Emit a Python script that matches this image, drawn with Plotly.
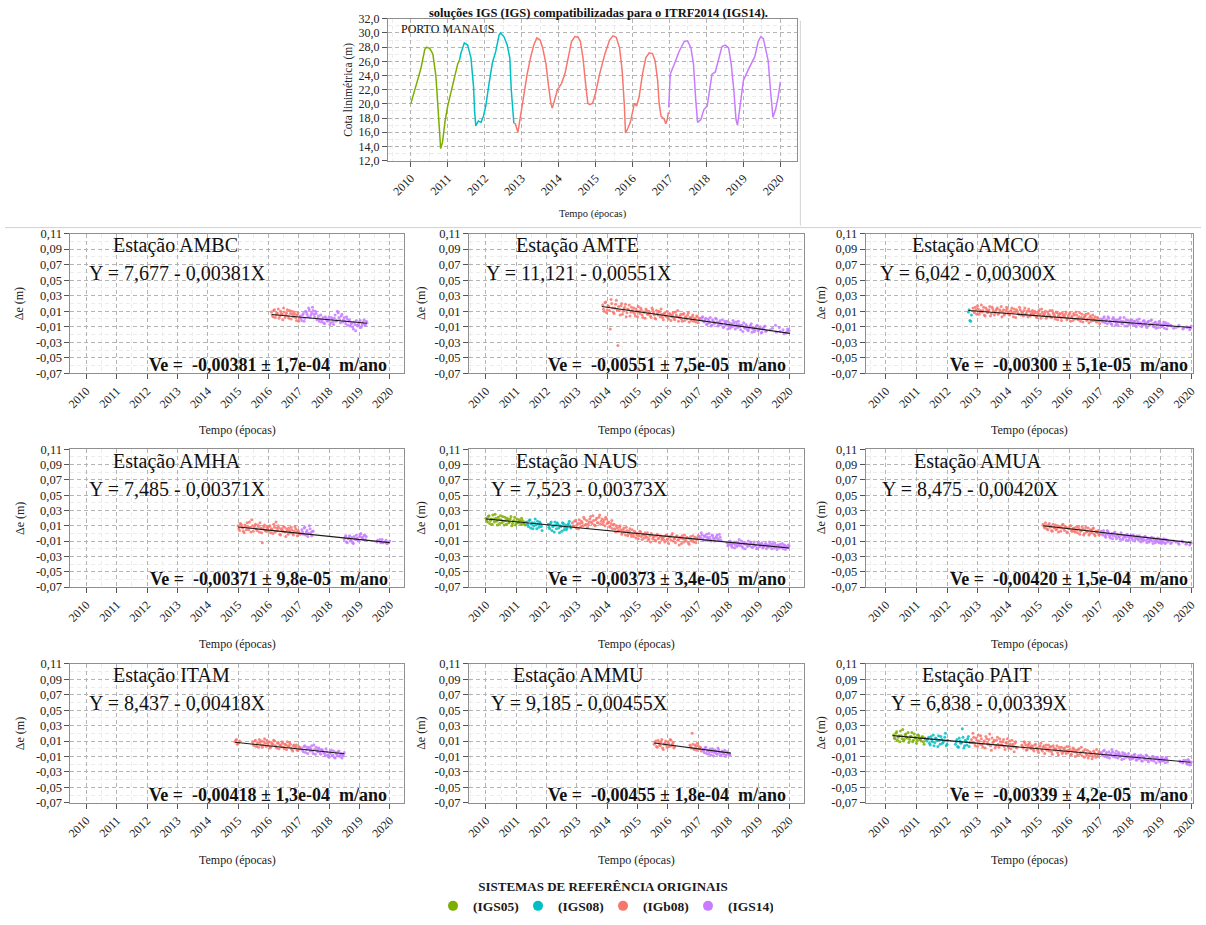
import numpy as np
import plotly.graph_objects as go

# ============================ DATA ============================
YEARS = [2010, 2011, 2012, 2013, 2014, 2015, 2016, 2017, 2018, 2019, 2020]
DE_TICKS = [-0.07, -0.05, -0.03, -0.01, 0.01, 0.03, 0.05, 0.07, 0.09, 0.11]
DE_TICKTEXT = ["-0,07", "-0,05", "-0,03", "-0,01", "0,01", "0,03", "0,05", "0,07", "0,09", "0,11"]
COTA_TICKS = [12, 14, 16, 18, 20, 22, 24, 26, 28, 30, 32]
COTA_TICKTEXT = ["12,0", "14,0", "16,0", "18,0", "20,0", "22,0", "24,0", "26,0", "28,0", "30,0", "32,0"]

SYSTEMS = ["IGS05", "IGS08", "IGb08", "IGS14"]
SYSTEM_COLORS = ["#7CAE00", "#00BFC4", "#F8766D", "#C77CFF"]

# Porto Manaus river level (m)
MANAUS_IGS05_T = [2010.00, 2010.05, 2010.11, 2010.20, 2010.28, 2010.38, 2010.43, 2010.52, 2010.60, 2010.68,
                  2010.73, 2010.76, 2010.79, 2010.81, 2010.86, 2010.89, 2010.93, 2011.00, 2011.08, 2011.17,
                  2011.27, 2011.32]
MANAUS_IGS05_Z = [20.0, 21.0, 21.8, 23.6, 25.1, 27.7, 28.0, 27.8, 27.0, 24.0,
                  20.1, 17.4, 15.0, 13.7, 14.6, 16.0, 17.6, 19.7, 21.5, 23.8,
                  25.6, 26.2]
MANAUS_IGS08_T = [2011.32, 2011.36, 2011.45, 2011.54, 2011.63, 2011.70, 2011.73, 2011.76, 2011.83, 2011.90,
                  2011.97, 2012.03, 2012.12, 2012.21, 2012.30, 2012.39, 2012.43, 2012.52, 2012.61, 2012.68,
                  2012.72, 2012.76, 2012.79]
MANAUS_IGS08_Z = [26.2, 27.2, 28.6, 28.3, 26.5, 22.4, 18.8, 16.9, 17.6, 17.4,
                  18.3, 19.7, 22.9, 25.8, 27.4, 29.7, 30.0, 29.5, 28.3, 26.5,
                  22.0, 18.3, 17.3]
MANAUS_IGB08_T = [2012.79, 2012.83, 2012.90, 2012.97, 2013.04, 2013.15, 2013.24, 2013.33, 2013.41, 2013.50,
                  2013.57, 2013.66, 2013.72, 2013.79, 2013.83, 2013.90, 2013.97, 2014.08, 2014.17, 2014.26,
                  2014.35, 2014.44, 2014.53, 2014.59, 2014.66, 2014.73, 2014.79, 2014.84, 2014.92, 2015.00,
                  2015.11, 2015.25, 2015.38, 2015.47, 2015.56, 2015.65, 2015.72, 2015.78, 2015.81, 2015.87,
                  2015.94, 2016.00, 2016.05, 2016.11, 2016.18, 2016.27, 2016.36, 2016.45, 2016.54, 2016.61,
                  2016.68, 2016.72, 2016.77, 2016.86, 2016.90, 2016.94, 2016.97]
MANAUS_IGB08_Z = [17.3, 17.2, 16.0, 18.3, 21.0, 24.2, 26.5, 28.3, 29.3, 29.0,
                  27.9, 25.6, 22.9, 20.1, 19.4, 20.6, 22.0, 22.9, 24.2, 26.5,
                  28.8, 29.5, 29.4, 28.8, 26.5, 22.9, 20.1, 19.9, 20.1, 21.5,
                  24.2, 27.0, 29.0, 29.6, 29.4, 27.9, 24.7, 19.7, 15.9, 16.5,
                  17.4, 18.8, 20.1, 19.7, 21.0, 24.2, 26.5, 27.2, 27.1, 26.1,
                  23.3, 20.1, 18.3, 17.8, 17.2, 17.8, 18.8]
MANAUS_IGS14_T = [2016.98, 2017.02, 2017.13, 2017.26, 2017.40, 2017.49, 2017.58, 2017.65, 2017.71, 2017.76,
                  2017.85, 2017.93, 2018.02, 2018.08, 2018.15, 2018.24, 2018.33, 2018.42, 2018.51, 2018.60,
                  2018.67, 2018.74, 2018.80, 2018.84, 2018.91, 2019.00, 2019.12, 2019.22, 2019.31, 2019.40,
                  2019.47, 2019.54, 2019.61, 2019.67, 2019.74, 2019.80, 2019.87, 2019.94, 2020.00]
MANAUS_IGS14_Z = [19.5, 24.2, 25.6, 27.4, 28.8, 28.9, 27.9, 25.6, 20.6, 17.4,
                  17.8, 19.2, 19.7, 22.0, 24.2, 24.5, 26.5, 28.1, 28.3, 27.9,
                  25.6, 22.0, 17.8, 17.0, 19.7, 23.3, 24.7, 25.8, 26.7, 28.8,
                  29.5, 29.2, 27.4, 26.1, 21.5, 18.1, 19.2, 21.0, 23.1]

# East-component residuals (mm). "A" samples every 0.05 yr from the start epoch,
# "B" samples every 0.05 yr from start + 0.025 yr; None = no data.
SAMPLE_STEP = 0.05
B_OFFSET = 0.025

AMBC_START = {"IGb08": 2016.10, "IGS14": 2017.05}
AMBC_IGB08_A = [9, 3, 12, 5, 7, 1, 10, 6, 14, 2, 8, 4, 11, 0, 6, 9, 2, 5, -3]
AMBC_IGB08_B = [5, 11, 2, 8, 13, 4, 7, -1, 9, 5, 12, 1, 7, 10, 3, 6, -2, 8, 1]
AMBC_IGS14_A = [4, -2, 7, 1, 9, 3, 12, 5, 15, 6, 10, -1, 4, 0, -4, 2, -6, 1, -3, 3,
                -5, 0, -7, 5, -2, 8, -1, 4, -4, 2, -6, 0, -3, -9, -5, -13, -7, -2, -9, -4,
                -11, -6, -1, -8, -5]
AMBC_IGS14_B = [1, 5, -3, 10, 6, 14, 2, 8, 11, 3, 7, 1, -3, 5, -1, -5, 3, -2, 0, -7,
                2, -4, 1, -3, 10, 2, -5, 6, -1, -3, 3, -8, -1, -6, -10, -4, -15, -8, -6, -2,
                -9, -4, -7, -3]
AMBC_FIT_T = [2016.11, 2019.25]
AMBC_FIT_MM = [5.7, -5.5]

AMTE_START = {"IGb08": 2013.85, "IGS14": 2017.10}
AMTE_IGB08_A = [18, 10, 22, 12, 16, -13, 20, 9, 14, 24, -34, 11, 17, 6, 13, 19, 8, 12, 4, 15,
                9, 7, 13, 3, 10, 14, 5, 9, 1, 11, 6, 8, 2, 12, 5, 0, 7, 10, 3, 6,
                -1, 8, 4, 2, 7, -2, 5, 1, 9, 3, -3, 4, 0, 6, -2, 2, 5, -4, 1, 3,
                -3, 0, 4, -5, 1]
AMTE_IGB08_B = [13, 21, 8, 17, 11, 25, 14, 7, 19, 12, 16, 5, 20, 10, 15, 3, 13, 18, 9, 11,
                14, 4, 10, 16, 7, 12, 2, 9, 13, 6, 10, 4, 14, 8, 1, 11, 5, 9, 13, 2,
                7, 4, 10, 0, 6, 3, 8, -1, 5, 11, 2, 6, -3, 7, 3, 0, 8, 2, -2, 5,
                1, -4, 3, -1]
AMTE_IGS14_A = [-1, 3, -4, 1, -6, -2, 2, -8, -3, -5, 0, -9, -4, -7, -1, -10, -5, -3, -8, -12,
                -6, -2, -9, -4, -11, -7, -14, -8, -5, -12, -9, -15, -10, -6, -13, -16, -11, -8, -14, -10,
                -17, -12, -9, -15, None, None, None, -12, None, -8, None, None, -16, None, -14, None, -18, -13, -15]
AMTE_IGS14_B = [2, -3, -1, -7, 0, -5, -9, -1, -6, 1, -4, -8, -2, -6, -11, -3, -8, -13, -5, -9,
                -10, -5, -13, -7, -3, -10, -8, -16, -11, -7, -14, -12, -8, -17, -11, -14, -9, -15, -12, -18,
                -13, -10, -16, None, None, -14, None, None, None, -17, None, -11, None, None, -19, None, -16, -14]
AMTE_FIT_T = [2013.82, 2020.03]
AMTE_FIT_MM = [16.0, -18.5]

AMCO_START = {"IGS08": 2012.70, "IGb08": 2012.85, "IGS14": 2017.05}
AMCO_IGS08_A = [9, -2, 5]
AMCO_IGS08_B = [12, -3]
AMCO_IGB08_A = [14, 8, 12, 17, 6, 11, 9, 15, 4, 12, 10, 16, 7, 13, 5, 11, 14, 8, 10, 3,
                12, 7, 15, 9, 5, 11, 8, 13, 2, 10, 6, 12, 9, 4, 14, 7, 3, 10, 6, 11,
                5, 8, 2, 10, 6, 13, 4, 7, 1, 9, 5, 3, 11, 6, 0, 8, 4, 7, -2, 5,
                3, 9, 1, 6, -3, 4, 7, 0, 5, -1, 8, 2, -4, 3, 6, 0, -5, 4, 1, -2,
                3, -4, 1, -6]
AMCO_IGB08_B = [10, 15, 6, 13, 9, 18, 11, 5, 14, 8, 12, 4, 15, 10, 8, 13, 6, 12, 16, 9,
                5, 11, 13, 6, 10, 14, 3, 9, 12, 7, 15, 5, 8, 11, 6, 10, 13, 4, 9, 7,
                10, 3, 7, 12, 1, 8, 5, 10, 3, 6, 11, 2, 8, 4, 9, -1, 6, 2, 8, 3,
                6, -1, 4, 8, 2, -2, 5, 9, 1, 3, -3, 6, 1, 4, -2, 7, 2, -3, 5, 0,
                -2, 2, -3]
AMCO_IGS14_A = [0, -4, 3, -2, -6, 1, -3, -7, 2, -1, -5, -8, 0, -3, -6, 2, -4, -9, -2, -5,
                -1, -7, -3, -10, -4, 0, -6, -8, -2, -5, -11, -3, -7, -1, -9, -5, -12, -6, -3, -8,
                -10, -4, -7, -13, -6, None, -9, None, None, -11, None, -8, None, None, -12, None, -10, None, -14, -9]
AMCO_IGS14_B = [-2, 1, -5, -1, 3, -4, -6, 0, -3, -8, -1, -4, 2, -6, -3, -9, -1, -5, -7, -2,
                -6, -3, -8, -1, -7, -5, -10, -3, -7, -9, -4, -8, -2, -6, -10, -4, -7, -11, -5, -9,
                -7, -12, -5, -9, None, -8, None, -12, None, None, -10, None, None, -13, None, None, -11, None, -12]
AMCO_FIT_T = [2012.70, 2020.0]
AMCO_FIT_MM = [11.0, -11.0]

AMHA_START = {"IGb08": 2015.00, "IGS14": 2017.10}
AMHA_IGB08_A = [10, 4, 12, 7, 1, 9, 14, 5, 8, 18, 3, 10, 6, 11, 2, 7, -12, 9, 4, 8,
                3, 10, 6, 0, 8, 15, 4, 7, -2, 5, 9, 2, 6, -1, 4, 8, 0, 3, 6, -3,
                2, -1]
AMHA_IGB08_B = [6, 13, 9, 3, 11, 5, 8, 15, 2, 10, 7, 12, 4, 9, 14, 1, 6, 11, 3, 7,
                9, 1, 5, 12, 2, 7, 10, -1, 6, 3, 8, -4, 4, 7, 1, 5, -2, 9, 2, 4,
                0]
AMHA_IGS14_A = [5, -1, 8, 2, -4, 10, 1, 3,
                None, None, None, None, None, None, None, None, None, None,
                None, None, None, None, None, None, None, None, None, None,
                -8, -3, -12, -6, -10, -5, -13, -7, -2, -9, -4, 0, -6, -3, -8,
                None, None, None, None, None, None, None,
                -9, None, -12, -8, None, -11, -13, None, -10]
AMHA_IGS14_B = [2, 7, -2, 4, 0, 6, -3, 3,
                None, None, None, None, None, None, None, None, None, None,
                None, None, None, None, None, None, None, None, None, None,
                -5, -11, -7, -3, -9, -12, -4, -8, -6, -10, -1, -5, -8, -2, -4,
                None, None, None, None, None, None,
                -11, None, -8, None, -12, None, -9, -13, None]
AMHA_FIT_T = [2015.0, 2020.0]
AMHA_FIT_MM = [8.5, -12.0]

NAUS_START = {"IGS05": 2010.00, "IGS08": 2011.35, "IGb08": 2012.85, "IGS14": 2017.05}
NAUS_IGS05_A = [20, 15, 23, 17, 12, 19, 25, 16, 21, 13, 18, 22, 11, 17, 20, 14, 19, 10, 16, 21,
                13, 15, 18, 12, 17, 14, 11]
NAUS_IGS05_B = [17, 22, 13, 19, 24, 15, 20, 11, 18, 23, 14, 16, 21, 12, 18, 15, 22, 13, 17, 11,
                19, 14, 16, 20, 12, 15]
NAUS_IGS08_A = [15, 9, 18, 12, 6, 14, 11, 16, 8, 13, 4,
                None, None, None,
                12, 6, 15, 9, 2, 11, 14, 7, 10, 3, 13, 8, 5, 11, 16, 7]
NAUS_IGS08_B = [12, 17, 7, 14, 10, 19, 6, 12, 15, 9,
                None, None, None, None,
                8, 13, 4, 10, 15, 6, 12, 1, 9, 14, 5, 11, 7, 13, 10]
NAUS_IGB08_A = [14, 9, 17, 11, 6, 13, 16, 10, 19, 12, 8, 15, 22, 13, 17, 10, 20, 14, 24, 16,
                12, 18, 21, 13, 15, 8, 17, 11, 6, 10, 3, 8, 5, 1, 7, -2, 4, 0, 6, -4,
                -1, 3, -6, 0, -3, 2, -8, -2, 1, -5, -9, -3, 0, -7, -4, -10, -1, -6, -3, -8,
                -5, -11, -2, -7, -4, -9, 0, -6, -12, -3, -8, -5, -13, -7, -2, -10, -6, -14, -4, -9,
                -11, -5, -8, -3]
NAUS_IGB08_B = [10, 16, 7, 13, 18, 9, 14, 21, 11, 17, 12, 19, 15, 23, 11, 18, 14, 21, 12, 19,
                15, 10, 19, 14, 9, 13, 6, 12, 2, 7, 4, 10, -1, 5, 2, 8, -3, 3, -1, 5,
                -4, 1, -2, -7, 3, -4, -1, -6, -3, 1, -7, -11, -2, -5, -9, -3, -7, -12, -4, -6,
                -9, -3, -8, -13, -5, -2, -10, -7, -4, -9, -15, -6, -3, -11, -8, -5, -12, -7, -10, -3,
                -7, -12, -6]
NAUS_IGS14_A = [-4, 1, -7, -3, -9, -5, 0, -8, -2, -6, -10, -4, -7, -1, -9, None, None, None, -12, -15,
                -10, -16, -13, -19, -11, -15, -8, -14, -17, -12, -20, -14, -10, -16, -13, -18, -11, -15, -19, -13,
                -16, -12, -18, -14, -20, -15, -11, -17, -13, -19, -15, -21, -16, -14, -18, -20, -15, -17, -19, -16]
NAUS_IGS14_B = [-6, -2, -9, -4, -1, -7, -5, -10, -3, -8, -6, -2, -9, -5, None, None, None, None, -16, -13,
                -14, -18, -11, -15, -17, -12, -16, -10, -19, -14, -13, -17, -15, -11, -18, -14, -16, -20, -12, -17,
                -14, -19, -16, -13, -17, -18, -14, -20, -16, -12, -18, -15, -19, -17, -13, -16, -21, -18, -15]
NAUS_FIT_T = [2010.0, 2020.0]
NAUS_FIT_MM = [19.0, -19.0]

AMUA_START = {"IGb08": 2015.15, "IGS14": 2017.05}
AMUA_IGB08_A = [12, 7, 10, 5, 13, 9, 3, 8, 11, 6, 2, 9, 7, 12, 4, 8, 1, 6, 10, 3,
                7, 2, 5, 9, -1, 4, 6, 0, 8, 3, -2, 5, 1, 7, -3, 2, 4, -1]
AMUA_IGB08_B = [9, 14, 6, 11, 8, 4, 12, 7, 5, 10, 8, 3, 11, 6, 9, 2, 7, 10, 4, 6,
                3, 8, 1, 6, 3, 9, -2, 5, 2, 7, 0, 4, 6, -1, 3, 1, -2]
AMUA_IGS14_A = [3, -2, 1, -5, 4, -1, -6, 0, -3, 2, -7, -2, -4, 1, -8, -3, -5, -1, -9, -4,
                -6, -2, -10, -5, -7, -3, -11, -6, -8, -4, -12, -7, -9, -5, -13, -8, -10, -6, -12, -9,
                -11, -7, -13, -9, -10, None, -12, None, None, -11, None, -14, None, -10, None, None, -13, None, -15, -12]
AMUA_IGS14_B = [0, 4, -3, -1, 2, -4, -2, -7, 1, -4, -1, -5, -8, -2, -6, -3, -9, -4, -6, -2,
                -8, -4, -7, -3, -9, -6, -8, -10, -4, -9, -6, -11, -8, -10, -6, -12, -9, -11, -7, -13,
                -9, -12, -8, -11, None, -13, None, -10, None, None, -12, None, None, -11, None, -14, None, None, -13]
AMUA_FIT_T = [2015.15, 2020.0]
AMUA_FIT_MM = [10.0, -12.0]

ITAM_START = {"IGb08": 2014.90, "IGS14": 2017.10}
ITAM_IGB08_A = [9, 12, 7, 10,
                None, None, None, None, None, None, None, None,
                6, 10, 3, 8, 12, 5, 2, 9, 7, 11, 4, 1, 8, 6, 10, 3, 7, 0, 5, 9,
                2, 6, -1, 4, 8, 1, -3, 5, 2, -2, 3, 0]
ITAM_IGB08_B = [11, 6, 8,
                None, None, None, None, None, None, None, None,
                9, 4, 11, 6, 2, 8, 10, 5, 13, 3, 7, 9, 2, 6, 11, 4, 1, 8, 5, 3,
                7, 0, 5, 9, 3, 6, -1, 4, 1, 5, -2, 2]
ITAM_IGS14_A = [1, -4, 4, -1, -6, 2, 0, -3, 5, -7, -2, 1, -5, -1,
                -3, -6, 0, -8, -11, -5, -9, -3, -12, -7, -4, -10, -6, -9, -5]
ITAM_IGS14_B = [-2, 3, -5, 2, 0, -3, 4, -6, -1, 2, -4, 0, -7, -2,
                -5, -9, -4, -10, -6, -2, -8, -11, -5, -9, -3, -8, -12, -7]
ITAM_FIT_T = [2014.9, 2018.5]
ITAM_FIT_MM = [8.5, -6.5]

AMMU_START = {"IGb08": 2015.55, "IGS14": 2017.15}
AMMU_IGB08_A = [6, 10, 2, 8, 4, 12, -1, 7, 5, 9, 3, 11, 6, 1,
                None, None, None, None, None, None, None, None, None, None,
                3, 20, 0, 5, -2, 4, 1, -3]
AMMU_IGB08_B = [8, 3, 11, 5, 9, 1, 6, 10, 2, 7, 12, 4, 8, 3,
                None, None, None, None, None, None, None, None, None,
                5, 1, 6, -1, 3, 7, 0, 2]
AMMU_IGS14_A = [-1, -5, 2, -3, -7, 0, -4, -9, -2, -6, 1, -5, -8, -3, -7, -10, -4, -6, -8]
AMMU_IGS14_B = [-3, 1, -6, -2, -4, -8, 0, -5, -3, -7, -1, -9, -4, -6, -2, -8, -5, -7]
AMMU_FIT_T = [2015.55, 2018.08]
AMMU_FIT_MM = [7.5, -5.6]

PAIT_START = {"IGS05": 2010.25, "IGS08": 2011.35, "IGb08": 2012.80, "IGS14": 2017.05}
PAIT_IGS05_A = [18, 13, 22, 15, 9, 17, 25, 12, 19, 14, 8, 16, 21, 11, 15, 7, 18, 13, 10, 16, 6, 12]
PAIT_IGS05_B = [14, 20, 11, 17, 23, 13, 10, 18, 15, 21, 12, 16, 9, 19, 14, 11, 17, 12, 15, 9, 14]
PAIT_IGS08_A = [10, 15, 5, 12, 18, 8, 13, 3, 11, 16, 7, 10, 20, 6,
                None, None, None, None, None,
                9, 3, 14, 7, 26, 1, 11, 5, 16, 8]
PAIT_IGS08_B = [13, 7, 16, 9, 4, 14, 11, 17, 6, 12, 9, 15, 4, 11,
                None, None, None, None,
                6, 12, 2, 10, 8, 15, 4, 9, 13, 3]
PAIT_IGB08_A = [12, 20, 7, 14, 3, 10, 17, 5, 9, 1, 13, 6, 19, -2, 8, 11, 4, 15, 2, 9,
                5, 12, -1, 7, 3, 10, 0, 6, -4, 9, 2, None, None, 5, 1, 8, -2, 4, 7, 0,
                3, -3, 6, 1, -5, 4, -1, 2, -6, 5, 0, -3, 3, -7, 1, -2, 4, -8, -1, 2,
                -4, 1, -6, -2, 3, -8, -3, 0, -10, -5, -1, -7, 2, -4, -11, -6, -2, -9, -5, -13,
                -3, -8, -1, -10, -6]
PAIT_IGB08_B = [8, 15, 4, 11, 18, 6, 13, 2, 10, 16, 7, 12, 4, 14, 9, 1, 11, 6, 13, 5,
                9, 3, 8, 13, 1, 6, 11, 3, 7, 1, None, None, None, 3, 9, 5, -1, 6, 2, 4,
                -1, 5, 1, -2, 3, 7, -3, 4, 1, -2, 5, 2, -4, 4, -1, 0, -5, 2, -3, -6,
                0, -3, 3, -5, -1, -7, 1, -4, -2, -8, 0, -5, -9, -3, -1, -8, -12, -4, -7, -10,
                -5, -11, -7, -4]
PAIT_IGS14_A = [-5, -9, -2, -7, -11, -4, -8, -1, -10, -6, -3, -12, -7, -9, -5, -13, -8, -10, -6, -14,
                -9, -12, -7, -15, -10, -13, -8, -16, -11, -14, -9, -17, -12, -15, -10, -13, -18, -11, -14, -16,
                -12, -15, -18, -13, None, None, None, None, None, None, None, None, -17, None, -15, None, -19, -14, -21, -17]
PAIT_IGS14_B = [-7, -3, -10, -5, -8, -12, -6, -4, -9, -11, -7, -5, -10, -14, -8, -6, -11, -9, -12, -10,
                -13, -8, -11, -14, -9, -12, -16, -10, -13, -8, -15, -12, -14, -10, -16, -13, -11, -15, -17, -13,
                -16, -14, -11, -17, None, None, None, None, None, None, None, -16, None, -18, None, -15, -20, -16, -18]
PAIT_FIT_T = [2010.22, 2019.97]
PAIT_FIT_MM = [17.0, -17.5]

STATIONS = ["AMBC", "AMTE", "AMCO", "AMHA", "NAUS", "AMUA", "ITAM", "AMMU", "PAIT"]
EQUATIONS = ["Y = 7,677 - 0,00381X", "Y = 11,121 - 0,00551X", "Y = 6,042 - 0,00300X",
             "Y = 7,485 - 0,00371X", "Y = 7,523 - 0,00373X", "Y = 8,475 - 0,00420X",
             "Y = 8,437 - 0,00418X", "Y = 9,185 - 0,00455X", "Y = 6,838 - 0,00339X"]
VELOCITIES = ["-0,00381 ± 1,7e-04", "-0,00551 ± 7,5e-05", "-0,00300 ± 5,1e-05",
              "-0,00371 ± 9,8e-05", "-0,00373 ± 3,4e-05", "-0,00420 ± 1,5e-04",
              "-0,00418 ± 1,3e-04", "-0,00455 ± 1,8e-04", "-0,00339 ± 4,2e-05"]

SERIES = {
    "AMBC": (AMBC_START, {"IGb08": (AMBC_IGB08_A, AMBC_IGB08_B), "IGS14": (AMBC_IGS14_A, AMBC_IGS14_B)},
             AMBC_FIT_T, AMBC_FIT_MM),
    "AMTE": (AMTE_START, {"IGb08": (AMTE_IGB08_A, AMTE_IGB08_B), "IGS14": (AMTE_IGS14_A, AMTE_IGS14_B)},
             AMTE_FIT_T, AMTE_FIT_MM),
    "AMCO": (AMCO_START, {"IGS08": (AMCO_IGS08_A, AMCO_IGS08_B), "IGb08": (AMCO_IGB08_A, AMCO_IGB08_B),
                          "IGS14": (AMCO_IGS14_A, AMCO_IGS14_B)}, AMCO_FIT_T, AMCO_FIT_MM),
    "AMHA": (AMHA_START, {"IGb08": (AMHA_IGB08_A, AMHA_IGB08_B), "IGS14": (AMHA_IGS14_A, AMHA_IGS14_B)},
             AMHA_FIT_T, AMHA_FIT_MM),
    "NAUS": (NAUS_START, {"IGS05": (NAUS_IGS05_A, NAUS_IGS05_B), "IGS08": (NAUS_IGS08_A, NAUS_IGS08_B),
                          "IGb08": (NAUS_IGB08_A, NAUS_IGB08_B), "IGS14": (NAUS_IGS14_A, NAUS_IGS14_B)},
             NAUS_FIT_T, NAUS_FIT_MM),
    "AMUA": (AMUA_START, {"IGb08": (AMUA_IGB08_A, AMUA_IGB08_B), "IGS14": (AMUA_IGS14_A, AMUA_IGS14_B)},
             AMUA_FIT_T, AMUA_FIT_MM),
    "ITAM": (ITAM_START, {"IGb08": (ITAM_IGB08_A, ITAM_IGB08_B), "IGS14": (ITAM_IGS14_A, ITAM_IGS14_B)},
             ITAM_FIT_T, ITAM_FIT_MM),
    "AMMU": (AMMU_START, {"IGb08": (AMMU_IGB08_A, AMMU_IGB08_B), "IGS14": (AMMU_IGS14_A, AMMU_IGS14_B)},
             AMMU_FIT_T, AMMU_FIT_MM),
    "PAIT": (PAIT_START, {"IGS05": (PAIT_IGS05_A, PAIT_IGS05_B), "IGS08": (PAIT_IGS08_A, PAIT_IGS08_B),
                          "IGb08": (PAIT_IGB08_A, PAIT_IGB08_B), "IGS14": (PAIT_IGS14_A, PAIT_IGS14_B)},
             PAIT_FIT_T, PAIT_FIT_MM),
}
MANAUS = {
    "IGS05": (MANAUS_IGS05_T, MANAUS_IGS05_Z),
    "IGS08": (MANAUS_IGS08_T, MANAUS_IGS08_Z),
    "IGb08": (MANAUS_IGB08_T, MANAUS_IGB08_Z),
    "IGS14": (MANAUS_IGS14_T, MANAUS_IGS14_Z),
}

# ============================ LAYOUT ============================
W, H = 1206, 925
SERIF = "Liberation Serif"
COLOR = dict(zip(SYSTEMS, SYSTEM_COLORS))


def fx(x):
    return x / W


def fy(y):
    return 1 - y / H


COLS = [(66, 402), (468, 806), (868, 1198)]
ROWS = [(230, 372), (449, 589), (667, 808)]
XRANGES = [(2009.477, 2020.458), (2009.444, 2020.50), (2009.34, 2020.06)]
# per-panel text anchors (px): left of station name, left of equation, right of velocity
TEXT_X = [(107, 83, 387), (513, 483, 790), (913, 880, 1195),
          (107, 83, 388), (513, 488, 790), (915, 882, 1195),
          (107, 83, 387), (510, 488, 790), (923, 891, 1195)]
YTITLE_X = [15, 420, 823]

GRID_MAJOR = "#b4b4b4"
GRID_MINOR = "#ececec"
AXLINE = "#8f8f8f"


def x_axis(domain, rng, anchor, size=12):
    return dict(domain=domain, range=list(rng), anchor=anchor,
                tickmode="array", tickvals=YEARS, ticktext=[str(v) for v in YEARS], tickangle=-45,
                showgrid=True, gridcolor=GRID_MAJOR, griddash="4px,3px", gridwidth=1,
                minor=dict(tickmode="linear", tick0=2010, dtick=0.5, showgrid=True,
                           gridcolor=GRID_MINOR, gridwidth=1, ticks=""),
                showline=True, linecolor=AXLINE, linewidth=1, mirror=True,
                ticks="outside", ticklen=5, tickcolor="#555555", tickwidth=1,
                tickfont=dict(family=SERIF, size=size, color="#222222"),
                zeroline=False, fixedrange=True)


def y_axis(domain, rng, anchor, vals, texts, minor_d, minor0, size=12.5):
    return dict(domain=domain, range=list(rng), anchor=anchor,
                tickmode="array", tickvals=vals, ticktext=texts,
                showgrid=True, gridcolor=GRID_MAJOR, griddash="4px,3px", gridwidth=1,
                minor=dict(tickmode="linear", tick0=minor0, dtick=minor_d, showgrid=True,
                           gridcolor=GRID_MINOR, gridwidth=1, ticks=""),
                showline=True, linecolor=AXLINE, linewidth=1, mirror=True,
                ticks="outside", ticklen=5, tickcolor="#555555", tickwidth=1,
                tickfont=dict(family=SERIF, size=size, color="#222222"),
                zeroline=False, fixedrange=True)


def to_array(vals):
    return np.array([np.nan if v is None else v for v in vals], dtype=float)


fig = go.Figure()
layout = {}
annotations = []
shapes = []

# ---- top chart: Porto Manaus ----
TOP_X = (386, 799)
TOP_Y = (12, 156)
layout["xaxis"] = x_axis([fx(TOP_X[0]), fx(TOP_X[1])], (2009.38, 2020.46), "y", size=12)
layout["yaxis"] = y_axis([fy(TOP_Y[1]), fy(TOP_Y[0])], (12, 32), "x", COTA_TICKS, COTA_TICKTEXT, 1, 12, size=12)
for s in SYSTEMS:
    t, z = MANAUS[s]
    fig.add_trace(go.Scatter(x=t, y=z, mode="lines", line=dict(color=COLOR[s], width=1.5),
                             xaxis="x", yaxis="y", showlegend=False, hoverinfo="skip"))
annotations.append(dict(text="PORTO MANAUS", x=fx(397), y=fy(22), xref="paper", yref="paper",
                        xanchor="left", yanchor="middle", showarrow=False,
                        font=dict(family=SERIF, size=12, color="#111111")))
annotations.append(dict(text="Cota linimétrica (m)", x=fx(347), y=fy(84), xref="paper", yref="paper",
                        textangle=-90, xanchor="center", yanchor="middle", showarrow=False,
                        font=dict(family=SERIF, size=11.5, color="#222222")))
annotations.append(dict(text="Tempo (épocas)", x=fx(593), y=fy(210), xref="paper", yref="paper",
                        xanchor="center", yanchor="middle", showarrow=False,
                        font=dict(family=SERIF, size=10.5, color="#222222")))
annotations.append(dict(text="<b>soluções IGS (IGS) compatibilizadas para o ITRF2014 (IGS14).</b>",
                        x=fx(598), y=fy(6), xref="paper", yref="paper",
                        xanchor="center", yanchor="middle", showarrow=False,
                        font=dict(family=SERIF, size=12.5, color="#111111")))
shapes.append(dict(type="line", xref="paper", yref="paper", x0=0, x1=1, y0=fy(224), y1=fy(224),
                   line=dict(color="#d0d0d0", width=1)))
shapes.append(dict(type="line", xref="paper", yref="paper", x0=fx(802), x1=fx(802), y0=fy(14), y1=fy(222),
                   line=dict(color="#d0d0d0", width=1)))

# ---- station panels ----
for i, name in enumerate(STATIONS):
    r, c = divmod(i, 3)
    n = i + 2
    xa, ya = f"x{n}", f"y{n}"
    x0, x1 = COLS[c]
    y0, y1 = ROWS[r]
    layout[f"xaxis{n}"] = x_axis([fx(x0), fx(x1)], XRANGES[c], ya)
    layout[f"yaxis{n}"] = y_axis([fy(y1), fy(y0)], (-0.07, 0.11), xa, DE_TICKS, DE_TICKTEXT, 0.01, -0.07)

    starts, series, fit_t, fit_mm = SERIES[name]
    for s in SYSTEMS:
        if s not in series:
            continue
        vals_a, vals_b = series[s]
        t = np.concatenate([starts[s] + SAMPLE_STEP * np.arange(len(vals_a)),
                            starts[s] + B_OFFSET + SAMPLE_STEP * np.arange(len(vals_b))])
        mm = np.concatenate([to_array(vals_a), to_array(vals_b)])
        fig.add_trace(go.Scatter(x=t, y=mm / 1000.0, mode="markers",
                                 marker=dict(size=3, color=COLOR[s], opacity=0.85, line=dict(width=0)),
                                 xaxis=xa, yaxis=ya, showlegend=False, hoverinfo="skip"))
    fig.add_trace(go.Scatter(x=fit_t, y=np.array(fit_mm) / 1000.0, mode="lines",
                             line=dict(color="#1a1a1a", width=1.1),
                             xaxis=xa, yaxis=ya, showlegend=False, hoverinfo="skip"))

    tx_name, tx_eq, tx_ve = TEXT_X[i]
    annotations.append(dict(text=f"Estação {name}", x=fx(tx_name), y=fy(y0 + 12), xref="paper", yref="paper",
                            xanchor="left", yanchor="middle", showarrow=False,
                            font=dict(family=SERIF, size=20, color="#111111")))
    annotations.append(dict(text=EQUATIONS[i], x=fx(tx_eq), y=fy(y0 + 40), xref="paper", yref="paper",
                            xanchor="left", yanchor="middle", showarrow=False,
                            font=dict(family=SERIF, size=20, color="#111111")))
    annotations.append(dict(text="<b>Ve =\u00a0\u00a0" + VELOCITIES[i] + "\u00a0\u00a0m/ano</b>",
                            x=fx(tx_ve), y=fy(y1 - 8), xref="paper", yref="paper",
                            xanchor="right", yanchor="middle", showarrow=False,
                            font=dict(family=SERIF, size=18, color="#111111")))
    annotations.append(dict(text="Δe (m)", x=fx(YTITLE_X[c]), y=fy((y0 + y1) / 2), xref="paper", yref="paper",
                            textangle=-90, xanchor="center", yanchor="middle", showarrow=False,
                            font=dict(family=SERIF, size=12, color="#222222")))
    annotations.append(dict(text="Tempo (épocas)", x=fx((x0 + x1) / 2), y=fy(y1 + 58), xref="paper", yref="paper",
                            xanchor="center", yanchor="middle", showarrow=False,
                            font=dict(family=SERIF, size=12, color="#222222")))

# ---- legend entries ----
for s in SYSTEMS:
    fig.add_trace(go.Scatter(x=[None], y=[None], mode="markers", name=f"<b>({s})</b>",
                             marker=dict(size=10, color=COLOR[s]), xaxis="x", yaxis="y",
                             showlegend=True, hoverinfo="skip"))

fig.update_layout(
    width=W, height=H,
    margin=dict(l=0, r=0, t=0, b=0),
    paper_bgcolor="white", plot_bgcolor="white",
    font=dict(family=SERIF, color="#222222"),
    annotations=annotations, shapes=shapes,
    legend=dict(orientation="h", x=0.5, xanchor="center", y=fy(880), yanchor="top",
                title=dict(text="<b>SISTEMAS DE REFERÊNCIA ORIGINAIS</b>", side="top center",
                           font=dict(family=SERIF, size=13, color="#1a1a1a")),
                font=dict(family=SERIF, size=13.5, color="#1a1a1a"),
                entrywidth=40, entrywidthmode="pixels",
                bgcolor="rgba(0,0,0,0)", itemclick=False, itemdoubleclick=False),
    **layout,
)

fig.write_html("out.html", config={"displayModeBar": False, "staticPlot": True},
               post_script="document.body.style.margin='0px';")
